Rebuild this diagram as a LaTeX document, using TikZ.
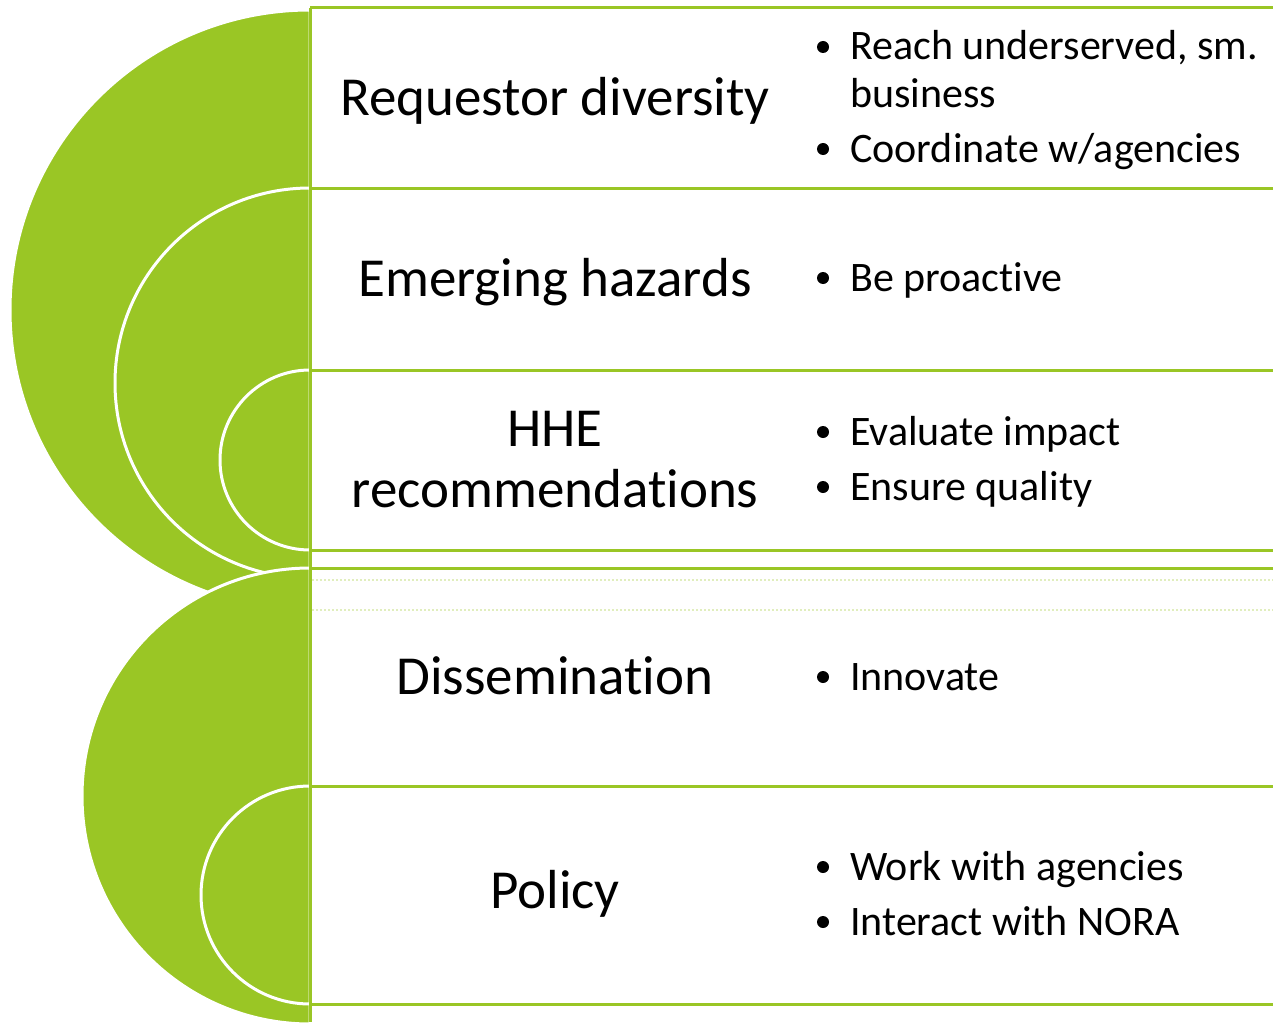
\documentclass[tikz,border=0pt]{standalone}
\usepackage{fontspec}
\setmainfont{Carlito}[Ligatures=NoCommon, RawFeature={-liga;-clig;-calt;-dlig}]
\definecolor{lime}{RGB}{154,198,37}
\begin{document}
\begin{tikzpicture}[x=1pt,y=-1pt,
  disc/.style={fill=lime, draw=white, line width=3pt},
  rule/.style={draw=lime, line width=3pt},
  faint/.style={draw=lime!30, line width=1.2pt, dash pattern=on 2pt off 2pt},
  title/.style={font=\fontsize{55}{62}\selectfont, anchor=base, inner sep=0pt},
  item/.style={font=\fontsize{42}{48}\selectfont, anchor=base west, inner sep=0pt},
  dot/.style={circle, fill=black, inner sep=0pt, minimum size=12pt}]
\useasboundingbox (0,0) rectangle (1273,1022);
% left half discs, top group
\draw[disc] (310,10) arc[start angle=270, end angle=90, radius=300] -- cycle;
\draw[disc] (310,188) arc[start angle=270, end angle=90, radius=195] -- cycle;
\draw[disc] (310,370) arc[start angle=270, end angle=90, radius=90] -- cycle;
% lower group
\draw[disc] (310,568) arc[start angle=270, end angle=90, radius=228] -- cycle;
\draw[disc] (310,786) arc[start angle=270, end angle=90, radius=109] -- cycle;
% faint artefact lines
\draw[faint] (312,580) -- (1273,580);
\draw[faint] (312,610) -- (1273,610);
% rules
\draw[rule] (310,8) -- (310,1022);
\foreach \yy in {8,188,370,550,568,786,1004} \draw[rule] (310,\yy) -- (1273,\yy);
% titles
\node[title] (t1) at (555,116) {Requestor diversity};
\node[title] (t2) at (555,296) {Emerging hazards};
\node[title] (t3a) at (555,446) {HHE};
\node[title] (t3b) at (555,507) {recommendations};
\node[title] (t4) at (555,694) {Dissemination};
\node[title] (t5) at (555,908) {Policy};
% bullets
\node[item] (b1a) at (850,60) {Reach underserved, sm.};
\node[item] (b1b) at (850,107) {business};
\node[item] (b1c) at (850,162) {Coordinate w/agencies};
\node[item] (b2a) at (850,291) {Be proactive};
\node[item] (b3a) at (850,445) {Evaluate impact};
\node[item] (b3b) at (850,500) {Ensure quality};
\node[item] (b4a) at (850,690) {Innovate};
\node[item] (b5a) at (850,880) {Work with agencies};
\node[item] (b5b) at (850,935) {Interact with NORA};
\foreach \n/\yy in {d1/47,d2/149,d3/278,d4/432,d5/487,d6/677,d7/867,d8/922}
  \node[dot] (\n) at (823,\yy) {};
\end{tikzpicture}
\end{document}
